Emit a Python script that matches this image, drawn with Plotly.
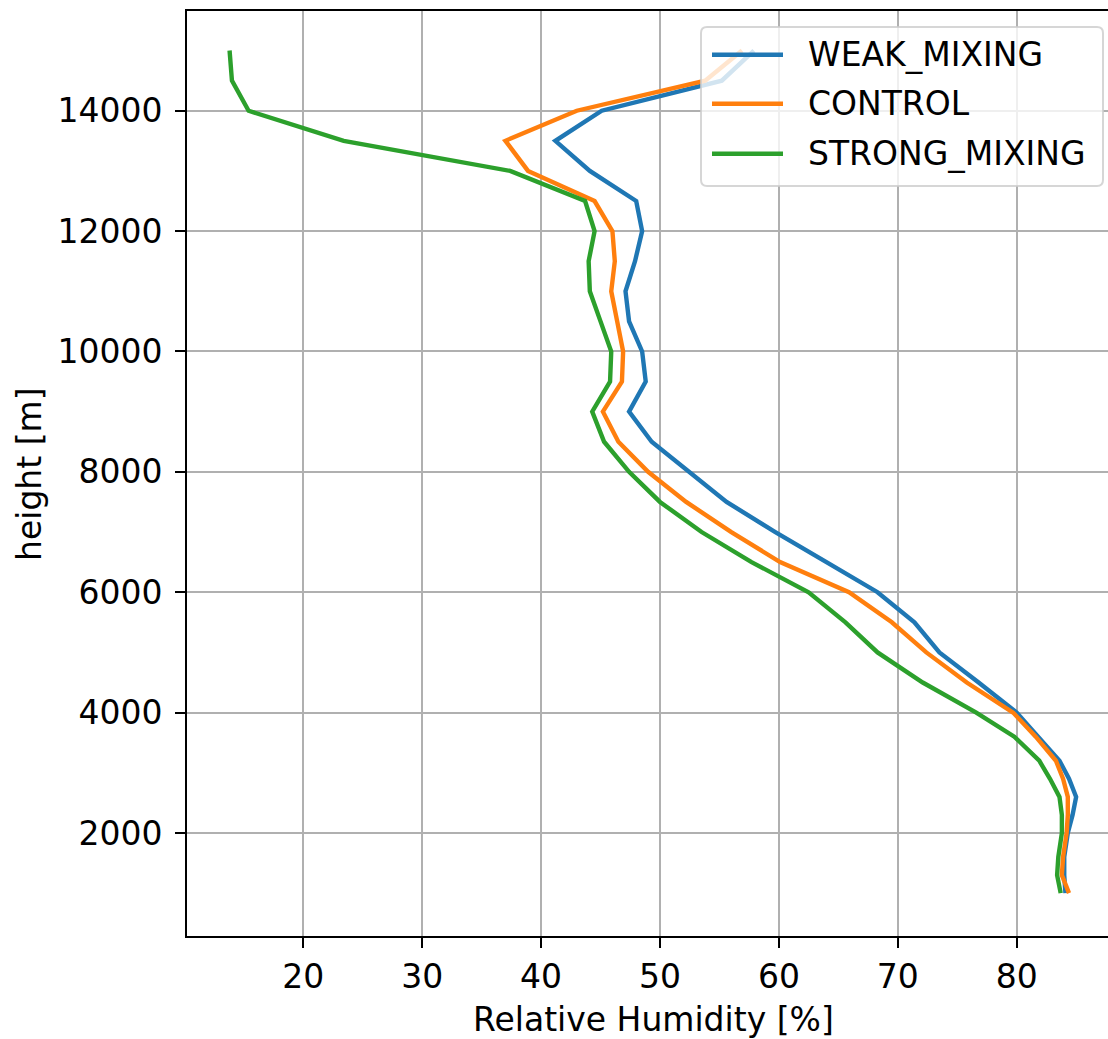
import plotly.graph_objects as go

# Model levels [m]
height = [1000, 1300, 1600, 2000, 2300, 2600, 2900, 3200, 3600, 4000,
          4500, 5000, 5500, 6000, 6500, 7000, 7500, 8000, 8500, 9000,
          9500, 10000, 10500, 11000, 11500, 12000, 12500, 13000, 13500,
          14000, 14500, 15000]

# Relative humidity [%] per experiment
rh_weak = [84.1, 84.0, 84.0, 84.3, 84.7, 85.0, 84.4, 83.6, 81.8, 80.0,
           76.8, 73.5, 71.4, 68.3, 64.0, 59.7, 55.6, 52.4, 49.3, 47.4,
           48.8, 48.5, 47.4, 47.1, 47.9, 48.5, 48.0, 44.1, 41.2,
           45.1, 55.2, 57.9]
rh_control = [84.4, 83.8, 83.9, 84.2, 84.3, 84.3, 83.9, 83.3, 81.6, 79.7,
              75.8, 72.4, 69.5, 65.9, 60.1, 56.0, 52.2, 49.0, 46.5, 45.2,
              46.8, 46.9, 46.4, 45.9, 46.2, 46.0, 44.5, 38.9, 37.0,
              43.0, 53.8, 56.9]
rh_strong = [83.7, 83.4, 83.5, 83.8, 83.8, 83.6, 82.8, 81.9, 79.8, 76.6,
             72.1, 68.3, 65.6, 62.5, 57.7, 53.5, 50.0, 47.4, 45.3, 44.3,
             45.8, 45.9, 45.0, 44.1, 44.0, 44.5, 43.7, 37.4, 23.4,
             15.4, 14.0, 13.8]

series_names = ["WEAK_MIXING", "CONTROL", "STRONG_MIXING"]
series_values = [rh_weak, rh_control, rh_strong]
series_colors = ["#1f77b4", "#ff7f0e", "#2ca02c"]

x_ticks = [20, 30, 40, 50, 60, 70, 80]
y_ticks = [2000, 4000, 6000, 8000, 10000, 12000, 14000]

FONT = "DejaVu Sans"
FS = 33
LW = 4.4
W, H = 1108, 1039
ML, MR, MT, MB = 187, 0, 11, 103
PW, PH = W - ML - MR, H - MT - MB

fig = go.Figure()
for name, vals, col in zip(series_names, series_values, series_colors):
    fig.add_trace(go.Scatter(x=vals, y=height, mode="lines", name=name,
                             line=dict(color=col, width=LW),
                             showlegend=False))

axis_common = dict(
    showgrid=True, gridcolor="#b0b0b0", gridwidth=1.6,
    showline=True, linecolor="black", linewidth=2,
    ticks="outside", ticklen=10, tickwidth=2, tickcolor="black",
    tickfont=dict(family=FONT, size=FS, color="black"),
    zeroline=False,
)

fig.update_xaxes(range=[10.22, 87.68], tickvals=x_ticks, mirror=True,
                 **axis_common)
fig.update_yaxes(range=[288, 15657], tickvals=y_ticks, tickformat="d",
                 ticklabelstandoff=6, **axis_common)


def px_x(p):
    return (p - ML) / PW


def px_y(p):
    return (H - MB - p) / PH


# Axis titles
fig.add_annotation(x=px_x(653), y=px_y(1019), xref="paper", yref="paper",
                   text="Relative Humidity [%]", showarrow=False,
                   xanchor="center", yanchor="middle",
                   font=dict(family=FONT, size=FS, color="black"))
fig.add_annotation(x=px_x(29), y=px_y(474), xref="paper", yref="paper",
                   text="height [m]", showarrow=False, textangle=-90,
                   xanchor="center", yanchor="middle",
                   font=dict(family=FONT, size=FS, color="black"))

# Legend drawn in the upper right corner of the axes
bx0, bx1, by0, by1, r = 701, 1103, 27, 186, 6
rx, ry = r / PW, r / PH
x0, x1, y0, y1 = px_x(bx0), px_x(bx1), px_y(by1), px_y(by0)
path = (f"M{x0 + rx},{y0} L{x1 - rx},{y0} Q{x1},{y0} {x1},{y0 + ry} "
        f"L{x1},{y1 - ry} Q{x1},{y1} {x1 - rx},{y1} "
        f"L{x0 + rx},{y1} Q{x0},{y1} {x0},{y1 - ry} "
        f"L{x0},{y0 + ry} Q{x0},{y0} {x0 + rx},{y0} Z")
fig.add_shape(type="path", path=path, xref="paper", yref="paper",
              fillcolor="rgba(255,255,255,0.8)",
              line=dict(color="rgba(204,204,204,0.8)", width=2),
              layer="above")

row_y = [54.7, 103.7, 153.7]
for name, col, ry_px in zip(series_names, series_colors, row_y):
    fig.add_shape(type="line", xref="paper", yref="paper",
                  x0=px_x(712), x1=px_x(783), y0=px_y(ry_px), y1=px_y(ry_px),
                  line=dict(color=col, width=LW), layer="above")
    fig.add_annotation(x=px_x(806), y=px_y(ry_px), xref="paper", yref="paper",
                       text=name, showarrow=False, xanchor="left",
                       yanchor="middle",
                       font=dict(family=FONT, size=FS, color="black"))

fig.update_layout(
    width=W, height=H, autosize=False,
    margin=dict(l=ML, r=MR, t=MT, b=MB, pad=0),
    paper_bgcolor="white", plot_bgcolor="white",
    font=dict(family=FONT, color="black"),
)

fig.write_html("out.html")
